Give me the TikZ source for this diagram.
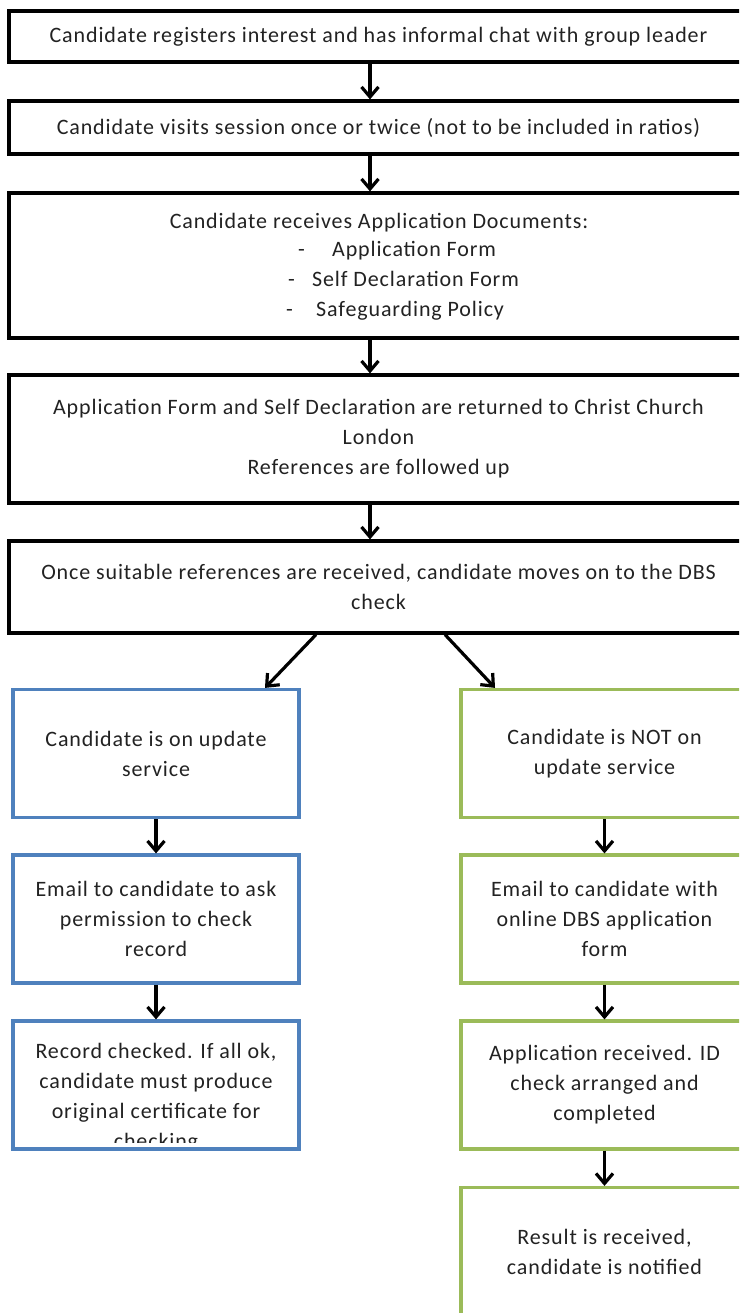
\documentclass[tikz,border=0pt]{standalone}
\usepackage{fontspec}
\setmainfont{Carlito}[LetterSpace=4]
\usetikzlibrary{arrows.meta}
\definecolor{boxblue}{HTML}{4F81BD}
\definecolor{boxgreen}{HTML}{9BBB59}
\definecolor{txt}{HTML}{222222}
\begin{document}
\begin{tikzpicture}[x=1pt,y=-1pt,
  base/.style={line width=3.2pt, inner sep=0pt, align=center, text=txt,
    font=\fontsize{22}{30}\selectfont},
  blackbox/.style={base, draw=black, minimum width=739pt},
  bluebox/.style={base, draw=boxblue, minimum width=286pt, minimum height=128pt},
  greenbox/.style={base, draw=boxgreen, minimum width=287pt, minimum height=128pt},
  plain/.style={inner sep=0pt, text=txt, font=\fontsize{22}{30}\selectfont},
  arr/.style={line width=3.2pt, -{Straight Barb[length=10pt,width=17pt,line width=3.2pt]}}
]
\useasboundingbox (0,0) rectangle (739,1313);
\clip (0,0) rectangle (739,1313);

% main column
\node[blackbox, minimum height=51pt] (b1) at (378.5,36.5)
  {Candidate registers interest and has informal chat with group leader};
\node[blackbox, minimum height=53pt] (b2) at (378.5,127.5)
  {Candidate visits session once or twice (not to be included in ratios)};
\node[blackbox, minimum height=145pt] (b3) at (378.5,265.5) {};
\node[plain] (b3t) at (379,223) {Candidate receives Application Documents:};
\node[plain, anchor=mid west] (b3a) at (298,254) {-};
\node[plain, anchor=mid west] (b3aa) at (332,254) {Application Form};
\node[plain, anchor=mid west] (b3b) at (288,284) {-};
\node[plain, anchor=mid west] (b3bb) at (312,284) {Self Declaration Form};
\node[plain, anchor=mid west] (b3c) at (286,314) {-};
\node[plain, anchor=mid west] (b3cc) at (316,314) {Safeguarding Policy};
\node[blackbox, minimum height=128pt] (b4) at (378.5,439)
  {Application Form  and Self Declaration are returned to Christ Church\\London\\References are followed up};
\node[blackbox, minimum height=92pt] (b5) at (378.5,587)
  {Once suitable references are received, candidate moves on to the DBS\\check};

% left column (blue)
\node[bluebox] (l1) at (156,753.5) {Candidate is on update\\service};
\node[bluebox] (l2) at (156,919) {Email to candidate to ask\\permission to check\\record};
\node[bluebox] (l3) at (156,1085) {};
\begin{scope}
  \clip (14,1022) rectangle (298,1142);
  \node[plain, align=center] (l3t) at (156,1098)
    {Record checked. If all ok,\\candidate must produce\\original certificate for\\checking};
\end{scope}

% right column (green)
\node[greenbox] (r1) at (604.5,753.5) {Candidate is NOT on\\update service};
\node[greenbox] (r2) at (604.5,919) {Email to candidate with\\online DBS application\\form};
\node[greenbox] (r3) at (604.5,1085) {Application received. ID\\check arranged and\\completed};
\node[greenbox] (r4) at (604.5,1251.5) {Result is received,\\candidate is notified};

% connectors
\draw[arr] ([xshift=-8.5pt]b1.south) -- ([xshift=-8.5pt]b2.north);
\draw[arr] ([xshift=-8.5pt]b2.south) -- ([xshift=-8.5pt]b3.north);
\draw[arr] ([xshift=-8.5pt]b3.south) -- ([xshift=-8.5pt]b4.north);
\draw[arr] ([xshift=-8.5pt]b4.south) -- ([xshift=-8.5pt]b5.north);
\draw[arr] ([xshift=-62.5pt]b5.south) -- ([xshift=109pt]l1.north);
\draw[arr] ([xshift=66.5pt]b5.south) -- ([xshift=-109.5pt]r1.north);
\draw[arr] (l1) -- (l2);
\draw[arr] (l2) -- (l3);
\draw[arr] (r1) -- (r2);
\draw[arr] (r2) -- (r3);
\draw[arr] (r3) -- (r4);
\end{tikzpicture}
\end{document}
